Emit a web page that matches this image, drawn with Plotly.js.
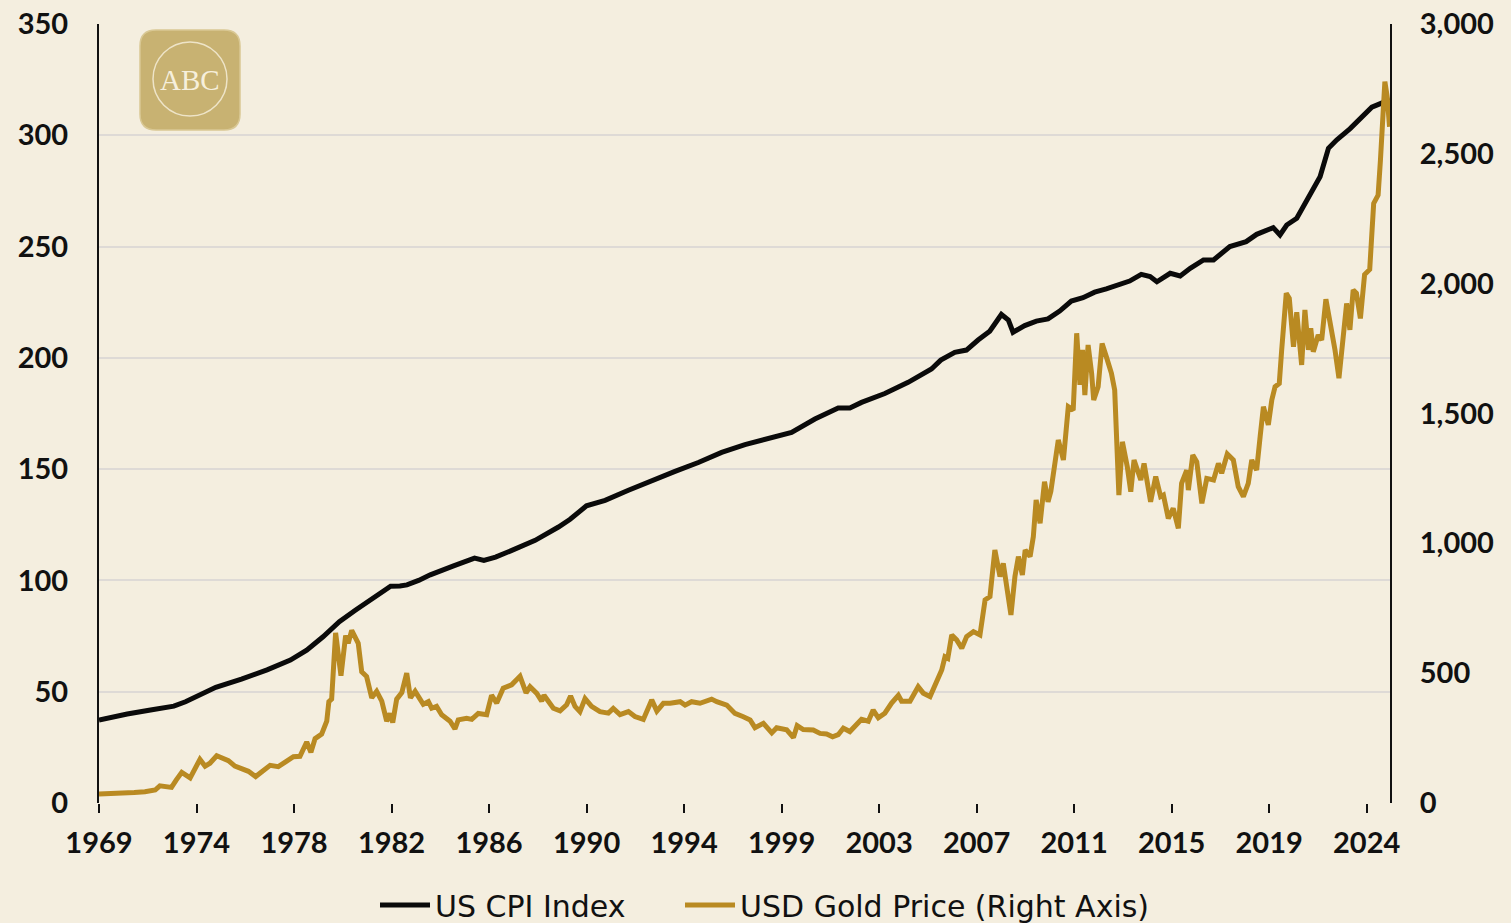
<!DOCTYPE html>
<html>
<head>
<meta charset="utf-8">
<script src="https://cdn.plot.ly/plotly-3.0.1.min.js"></script>
<style>
  html, body { margin: 0; padding: 0; background: #f4eedf; }
  #chart { width: 1511px; height: 923px; }
</style>
</head>
<body>
<div id="chart"></div>
<script>
// x tick labels (evenly spaced on the axis, like the original)
const tickLabels = ["1969", "1974", "1978", "1982", "1986", "1990", "1994", "1999", "2003", "2007", "2011", "2015", "2019", "2024"];

// US CPI index (fractional years)
const cpiYears = [1969.79, 1970.5, 1971.0, 1972.0, 1972.6, 1973.0, 1973.5, 1974.0, 1974.8, 1975.9, 1977.0, 1978.0, 1978.7, 1979.4, 1980.1, 1980.8, 1981.5, 1982.0, 1982.3, 1982.7, 1983.0, 1983.5, 1984.0, 1985.0, 1985.9, 1986.3, 1986.8, 1987.5, 1988.5, 1989.5, 1990.0, 1990.7, 1991.5, 1992.5, 1993.5, 1994.5, 1995.5, 1996.5, 1997.5, 1998.5, 1999.5, 2000.5, 2001.5, 2002.0, 2002.5, 2003.5, 2004.5, 2005.5, 2005.9, 2006.5, 2007.0, 2007.5, 2008.0, 2008.5, 2008.8, 2009.0, 2009.5, 2010.0, 2010.5, 2011.0, 2011.5, 2012.0, 2012.5, 2013.0, 2013.5, 2014.0, 2014.5, 2014.88, 2015.17, 2015.74, 2016.17, 2016.6, 2017.17, 2017.6, 2018.3, 2019.0, 2019.45, 2020.16, 2020.45, 2020.74, 2021.17, 2021.6, 2022.17, 2022.53, 2022.89, 2023.46, 2024.0, 2024.39, 2025.17];
const cpiValues = [37.3, 39.0, 40.0, 41.8, 42.5, 43.5, 45.5, 48.1, 52.0, 55.7, 59.8, 64.2, 68.7, 74.7, 81.5, 86.7, 91.5, 95.0, 97.4, 97.5, 98.0, 100.0, 102.5, 106.5, 110.0, 109.0, 110.5, 113.5, 118.0, 124.0, 127.5, 133.5, 136.0, 140.5, 145.0, 149.0, 153.0, 157.5, 161.0, 163.5, 166.5, 172.5, 177.5, 177.5, 180.0, 184.0, 189.0, 195.0, 199.0, 202.5, 203.5, 208.0, 212.0, 219.5, 217.0, 211.5, 214.5, 216.5, 217.5, 221.0, 225.5, 227.0, 229.5, 231.0, 233.0, 234.5, 237.5, 236.5, 234.2, 238.0, 236.8, 240.2, 244.0, 244.0, 250.0, 252.2, 255.5, 258.5, 255.2, 259.7, 262.7, 271.0, 281.4, 294.2, 298.0, 303.0, 308.5, 312.6, 316.0];

// USD gold price
const goldYears = [1969.79, 1970.5, 1971.3, 1971.76, 1972.2, 1972.4, 1972.9, 1973.1, 1973.34, 1973.7, 1974.12, 1974.34, 1974.55, 1974.84, 1975.34, 1975.62, 1976.2, 1976.51, 1976.77, 1977.13, 1977.48, 1977.84, 1978.13, 1978.41, 1978.7, 1978.88, 1979.06, 1979.34, 1979.56, 1979.65, 1979.77, 1979.94, 1980.17, 1980.37, 1980.48, 1980.63, 1980.91, 1981.06, 1981.27, 1981.49, 1981.7, 1981.92, 1982.13, 1982.27, 1982.39, 1982.56, 1982.78, 1982.99, 1983.15, 1983.35, 1983.7, 1983.92, 1984.06, 1984.27, 1984.49, 1984.85, 1985.06, 1985.2, 1985.56, 1985.78, 1986.06, 1986.42, 1986.63, 1986.85, 1987.13, 1987.49, 1987.85, 1988.11, 1988.28, 1988.57, 1988.78, 1988.88, 1989.28, 1989.57, 1989.85, 1990.02, 1990.21, 1990.42, 1990.64, 1990.92, 1991.28, 1991.64, 1991.85, 1992.14, 1992.5, 1992.78, 1993.14, 1993.5, 1993.72, 1994.0, 1994.29, 1994.72, 1994.93, 1995.21, 1995.57, 1996.07, 1996.29, 1996.72, 1997.07, 1997.43, 1997.72, 1997.93, 1998.29, 1998.65, 1998.86, 1999.29, 1999.58, 1999.74, 2000.0, 2000.43, 2000.72, 2001.0, 2001.26, 2001.5, 2001.72, 2002.0, 2002.29, 2002.5, 2002.79, 2003.0, 2003.22, 2003.5, 2003.79, 2004.08, 2004.22, 2004.58, 2004.93, 2005.15, 2005.44, 2005.72, 2005.94, 2006.08, 2006.2, 2006.37, 2006.58, 2006.8, 2007.01, 2007.3, 2007.58, 2007.8, 2008.01, 2008.22, 2008.44, 2008.58, 2008.75, 2008.91, 2009.08, 2009.23, 2009.4, 2009.52, 2009.73, 2009.87, 2009.99, 2010.16, 2010.35, 2010.5, 2010.62, 2010.94, 2011.16, 2011.37, 2011.58, 2011.73, 2011.87, 2011.98, 2012.08, 2012.22, 2012.37, 2012.46, 2012.65, 2012.82, 2013.0, 2013.22, 2013.36, 2013.54, 2013.69, 2013.9, 2014.05, 2014.19, 2014.48, 2014.62, 2014.9, 2015.12, 2015.33, 2015.45, 2015.66, 2015.87, 2016.09, 2016.23, 2016.45, 2016.52, 2016.71, 2016.88, 2017.1, 2017.31, 2017.6, 2017.81, 2017.95, 2018.19, 2018.45, 2018.66, 2018.88, 2019.09, 2019.24, 2019.45, 2019.6, 2019.74, 2019.95, 2020.1, 2020.24, 2020.42, 2020.52, 2020.72, 2020.85, 2021.03, 2021.17, 2021.38, 2021.52, 2021.67, 2021.77, 2021.88, 2022.09, 2022.24, 2022.42, 2022.59, 2022.81, 2022.98, 2023.16, 2023.31, 2023.45, 2023.59, 2023.73, 2023.9, 2024.08, 2024.3, 2024.47, 2024.66, 2024.76, 2024.85, 2024.95, 2025.05, 2025.15];
const goldPrices = [35, 36, 40, 43, 50, 66, 60, 88, 118, 97, 168, 142, 153, 182, 163, 142, 122, 102, 120, 145, 140, 160, 178, 180, 235, 195, 248, 265, 315, 390, 400, 655, 490, 645, 615, 665, 615, 505, 487, 405, 430, 392, 315, 345, 310, 400, 425, 500, 405, 430, 380, 390, 365, 372, 340, 315, 285, 320, 326, 322, 345, 340, 415, 385, 442, 455, 488, 424, 448, 422, 392, 415, 365, 355, 378, 412, 372, 352, 402, 372, 352, 346, 364, 340, 352, 333, 322, 397, 354, 384, 384, 390, 377, 390, 384, 400, 390, 377, 345, 332, 320, 290, 307, 270, 290, 282, 252, 298, 283, 281, 268, 266, 255, 263, 288, 275, 302, 322, 315, 358, 328, 346, 385, 415, 392, 392, 448, 423, 410, 467, 512, 563, 557, 647, 628, 596, 641, 660, 647, 782, 795, 974, 872, 923, 833, 724, 872, 949, 878, 974, 949, 1026, 1167, 1077, 1237, 1160, 1200, 1398, 1321, 1526, 1513, 1809, 1610, 1745, 1571, 1764, 1655, 1552, 1603, 1770, 1719, 1655, 1590, 1186, 1391, 1295, 1199, 1321, 1244, 1308, 1160, 1257, 1180, 1186, 1096, 1135, 1058, 1231, 1282, 1205, 1340, 1314, 1154, 1250, 1244, 1308, 1270, 1344, 1321, 1218, 1180, 1231, 1321, 1282, 1411, 1526, 1456, 1552, 1603, 1616, 1740, 1963, 1944, 1757, 1890, 1687, 1899, 1745, 1828, 1738, 1802, 1783, 1940, 1860, 1745, 1636, 1809, 1924, 1822, 1976, 1963, 1866, 2035, 2055, 2309, 2341, 2476, 2604, 2778, 2720, 2604];

const xStart = 1969.79;
const tickStep = 4.183;
const tickVals = tickLabels.map((_, i) => xStart + i * tickStep);

const tickFont = { family: "Lato, 'Open Sans', sans-serif", size: 29, color: "#111111", weight: 700 };
const legendFont = { family: "'DejaVu Sans', sans-serif", size: 30, color: '#111111' };

const cpiTrace = {
  x: cpiYears, y: cpiValues, type: 'scatter', mode: 'lines',
  name: 'US CPI Index',
  line: { color: '#0a0a0a', width: 5 },
  yaxis: 'y',
  legend: 'legend'
};
const goldTrace = {
  x: goldYears, y: goldPrices, type: 'scatter', mode: 'lines',
  name: 'USD Gold Price (Right Axis)',
  line: { color: '#b98a22', width: 5 },
  yaxis: 'y2',
  legend: 'legend2'
};

// logo box in the top-left corner of the plot (paper coordinates)
function px(x) { return (x - 99) / 1291; }
function py(y) { return (803 - y) / 779; }
const lx0 = px(140), lx1 = px(240), ly0 = py(130), ly1 = py(30);
const rx = 16 / 1291, ry = 16 / 779;
const logoPath = `M${lx0 + rx},${ly0} L${lx1 - rx},${ly0} Q${lx1},${ly0} ${lx1},${ly0 + ry} L${lx1},${ly1 - ry} Q${lx1},${ly1} ${lx1 - rx},${ly1} L${lx0 + rx},${ly1} Q${lx0},${ly1} ${lx0},${ly1 - ry} L${lx0},${ly0 + ry} Q${lx0},${ly0} ${lx0 + rx},${ly0} Z`;

const layout = {
  width: 1511,
  height: 923,
  paper_bgcolor: '#f4eedf',
  plot_bgcolor: '#f4eedf',
  margin: { l: 99, r: 121, t: 24, b: 120, autoexpand: false },
  showlegend: true,
  legend: {
    orientation: 'h',
    x: px(375), xanchor: 'left',
    y: -0.131, yanchor: 'middle',
    font: legendFont,
    bgcolor: 'rgba(0,0,0,0)',
    itemwidth: 50
  },
  legend2: {
    orientation: 'h',
    x: px(680), xanchor: 'left',
    y: -0.131, yanchor: 'middle',
    font: legendFont,
    bgcolor: 'rgba(0,0,0,0)',
    itemwidth: 50
  },
  xaxis: {
    range: [xStart, 2025.17],
    tickmode: 'array',
    tickvals: tickVals,
    ticktext: tickLabels,
    ticks: 'outside',
    ticklen: 9,
    tickwidth: 2,
    tickcolor: '#111111',
    ticklabelstandoff: 5,
    showgrid: false,
    showline: false,
    zeroline: false,
    tickfont: tickFont
  },
  yaxis: {
    range: [0, 350],
    tickvals: [0, 50, 100, 150, 200, 250, 300, 350],
    showline: true,
    linecolor: '#111111',
    linewidth: 2,
    ticks: '',
    ticklabelstandoff: 23,
    showgrid: true,
    gridcolor: '#dedad6',
    gridwidth: 2,
    zeroline: false,
    tickfont: tickFont
  },
  yaxis2: {
    range: [0, 3000],
    overlaying: 'y',
    side: 'right',
    tickvals: [0, 500, 1000, 1500, 2000, 2500, 3000],
    tickformat: ',d',
    showline: true,
    linecolor: '#111111',
    linewidth: 2,
    ticks: '',
    ticklabelstandoff: 22,
    showgrid: false,
    zeroline: false,
    tickfont: tickFont
  },
  shapes: [
    {
      type: 'path', xref: 'paper', yref: 'paper', path: logoPath,
      fillcolor: '#c8b272', line: { color: '#d9c894', width: 1.5 }, layer: 'above'
    },
    {
      type: 'circle', xref: 'paper', yref: 'paper',
      x0: px(153), x1: px(227), y0: py(116), y1: py(42),
      fillcolor: 'rgba(0,0,0,0)', line: { color: '#eee4c8', width: 1.5 }, layer: 'above'
    }
  ],
  annotations: [
    {
      xref: 'paper', yref: 'paper', x: px(190), y: py(80), text: 'ABC', showarrow: false,
      font: { family: "'Liberation Serif', 'DejaVu Serif', serif", size: 29, color: '#f6efdc' },
      xanchor: 'center', yanchor: 'middle'
    }
  ]
};

Plotly.newPlot('chart', [cpiTrace, goldTrace], layout, { displayModeBar: false, staticPlot: true });
</script>
</body>
</html>
